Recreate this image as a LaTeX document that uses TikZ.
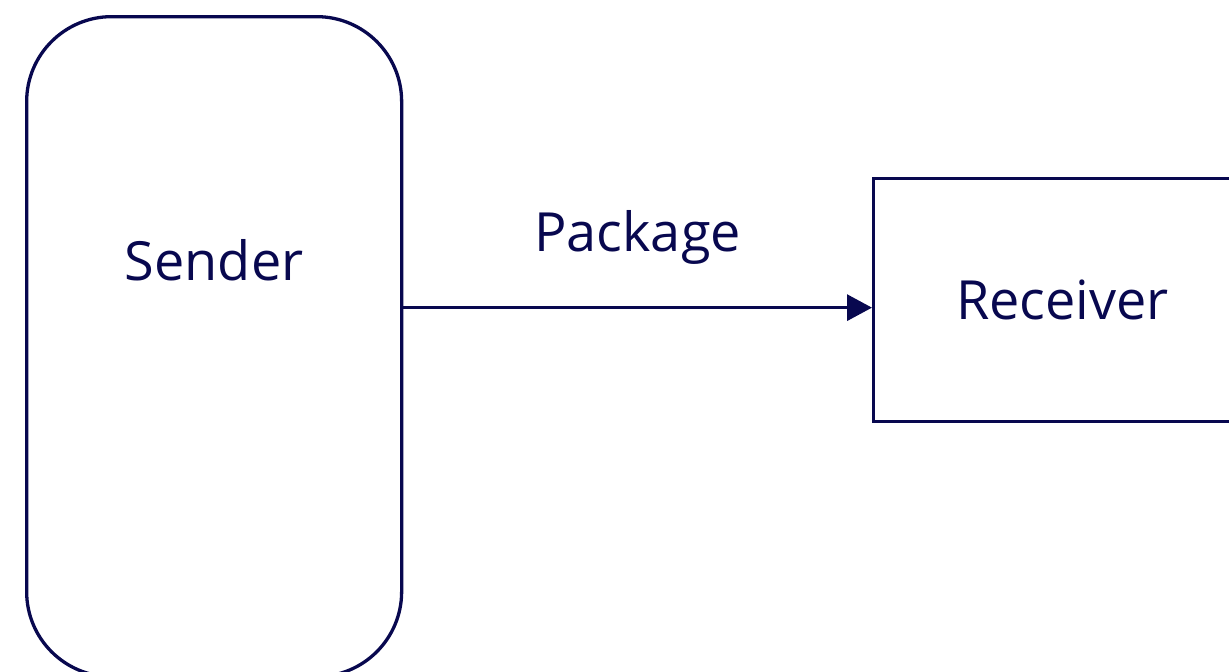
\documentclass[tikz,border=0pt]{standalone}
\usepackage{fontspec}
\setmainfont{Open Sans}
\usetikzlibrary{arrows.meta,positioning}
\definecolor{ink}{HTML}{08084F}

\begin{document}
\begin{tikzpicture}[
		x=1pt, y=1pt,
		box/.style={draw=ink, line width=3.3pt, inner sep=0pt},
		lbl/.style={text=ink, font=\fontsize{54}{60}\selectfont, inner sep=0pt},
	]
		\useasboundingbox (0,0) rectangle (1229,-672);
		\node[box, rounded corners=85pt, minimum width=375pt, minimum height=660pt, anchor=north west] (sender) at (25,-15) {};
		\node[lbl] (sendertxt) at ([yshift=-245pt]sender.north) {Sender};
		\node[box, minimum width=378pt, minimum height=243pt, anchor=north west] (receiver) at (872,-177) {};
		\node[lbl] (receivertxt) at (receiver.center) {Receiver};
		
		\draw[ink, line width=3.3pt, -{Triangle[length=25pt, width=26pt]}] ([yshift=-7.5pt]sender.east|-receiver.west) -- ([yshift=-7.5pt]receiver.west) node[lbl, midway, above=42pt] (pkg) {Package};
	\end{tikzpicture}
\end{document}
